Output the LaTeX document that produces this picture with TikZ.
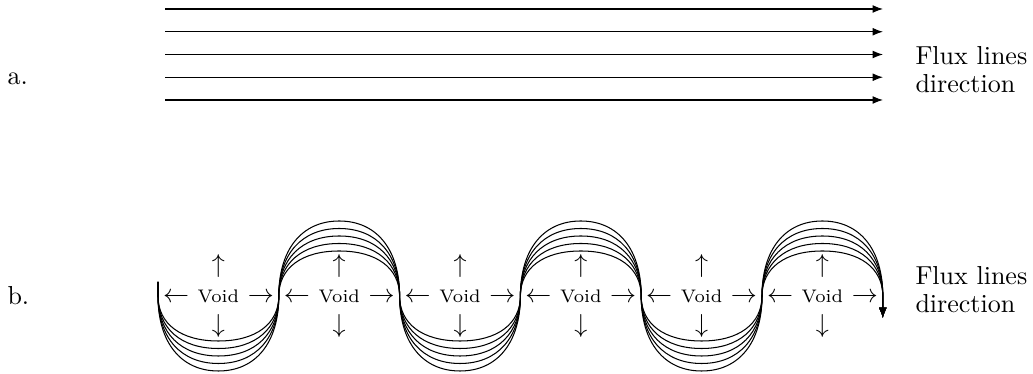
\documentclass[tikz,border=0pt]{standalone}
\usepackage{amsmath}
\usepackage{tikz}
\usetikzlibrary{arrows.meta,positioning}
\tikzstyle{fluxline} = [-{Latex[length=4pt,width=3pt]}]
\tikzstyle{waveline} = [-{Latex[length=4pt,width=3pt]}]
\tikzstyle{fluxtext} = [anchor=west, inner sep=0pt, align=left, font=\fontsize{10}{10.8}\selectfont]
\tikzstyle{partlabel} = [anchor=base west, inner sep=0pt]
\tikzstyle{voidlabel} = [inner sep=0pt]
\tikzstyle{voidmark} = [inner sep=0pt]

\begin{document}
\begin{tikzpicture}[x=0.3846pt, y=-0.3846pt]
\useasboundingbox (0,0) rectangle (1033,374);

% a. straight flux lines
\node (parta) [partlabel] at (7,85) {a.};
\foreach \i/\y in {1/9,2/31.75,3/54.5,4/77.25,5/100} {
  \coordinate (s\i) at (165,\y);
  \coordinate (e\i) at (883,\y);
  \draw[fluxline] (s\i) -- (e\i);
}
\node (fluxa) [fluxtext] at (915,70) {Flux lines\\direction};

% b. flux lines bent round the voids
\node (partb) [partlabel] at (7,305) {b.};
\coordinate (wstart) at (158,282);
\coordinate (wend) at (882.8,318);
\foreach \k in {0,...,6}
  \coordinate (c\k) at (158+120.8*\k,296);
\foreach \r in {45,52.5,60,67.5,75} {
  \pgfmathsetmacro\kd{0.62*\r}
  \def\ka{37.5}
  \draw[waveline] (wstart) -- (c0)
    .. controls +(0,\kd) and +(-\ka,0) .. ++(60.4,\r)
    .. controls +(\ka,0) and +(0,\kd) .. (c1)
    .. controls +(0,-\kd) and +(-\ka,0) .. ++(60.4,-\r)
    .. controls +(\ka,0) and +(0,-\kd) .. (c2)
    .. controls +(0,\kd) and +(-\ka,0) .. ++(60.4,\r)
    .. controls +(\ka,0) and +(0,\kd) .. (c3)
    .. controls +(0,-\kd) and +(-\ka,0) .. ++(60.4,-\r)
    .. controls +(\ka,0) and +(0,-\kd) .. (c4)
    .. controls +(0,\kd) and +(-\ka,0) .. ++(60.4,\r)
    .. controls +(\ka,0) and +(0,\kd) .. (c5)
    .. controls +(0,-\kd) and +(-\ka,0) .. ++(60.4,-\r)
    .. controls +(\ka,0) and +(0,-\kd) .. (c6) -- (wend);
}

% voids
\foreach \i in {1,...,6} {
  \pgfmathsetmacro\xv{158+120.8*(\i-0.5)}
  \node (void\i) [voidlabel] at (\xv,296) {$\leftarrow$ {\scriptsize Void} $\rightarrow$};
  \node (up\i) [voidmark, yshift=11.5pt] at (void\i) {$\uparrow$};
  \node (down\i) [voidmark, yshift=-11.5pt] at (void\i) {$\downarrow$};
}
\node (fluxb) [fluxtext] at (915,290) {Flux lines\\direction};
\end{tikzpicture}
\end{document}
